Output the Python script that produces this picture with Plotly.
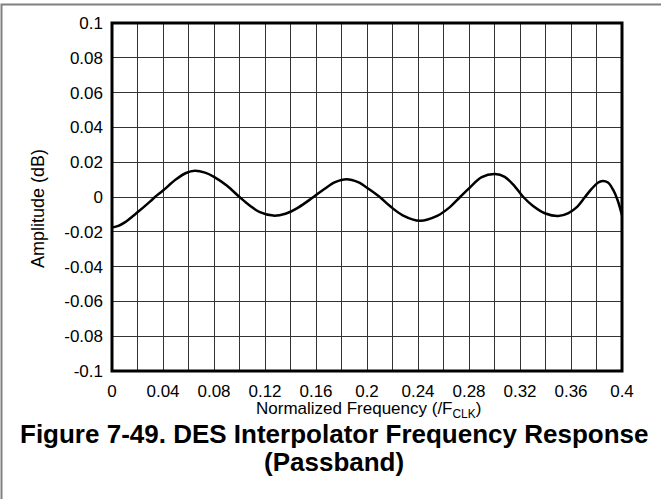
import plotly.graph_objects as go

# Data
freq = [0.000, 0.005, 0.010, 0.020, 0.030, 0.0337, 0.040, 0.050, 0.058, 0.065, 0.073,
        0.080, 0.090, 0.100, 0.108, 0.116, 0.1265, 0.136, 0.146, 0.158, 0.166,
        0.175, 0.184, 0.193, 0.202, 0.210, 0.218, 0.228, 0.2416, 0.255, 0.265,
        0.273, 0.280, 0.290, 0.3004, 0.308, 0.316, 0.3226, 0.330, 0.340, 0.350,
        0.358, 0.365, 0.371, 0.376, 0.381, 0.3849, 0.389, 0.393, 0.3965, 0.400]
amplitude = [-0.0175, -0.0166, -0.0146, -0.0088, -0.0025, 0.0, 0.0037, 0.0100, 0.0138, 0.0151, 0.0140,
             0.0116, 0.0066, 0.0, -0.0049, -0.0087, -0.0107, -0.0096, -0.0061, 0.0, 0.0043,
             0.0085, 0.0102, 0.0085, 0.0043, 0.0, -0.0052, -0.0105, -0.0136, -0.0108, -0.0058,
             0.0, 0.0050, 0.0114, 0.0132, 0.0116, 0.0060, 0.0, -0.0050, -0.0095, -0.0109,
             -0.0092, -0.0055, 0.0, 0.0045, 0.0082, 0.0092, 0.0083, 0.0042, -0.0017, -0.0105]

x_tickvals = [0, 0.04, 0.08, 0.12, 0.16, 0.2, 0.24, 0.28, 0.32, 0.36, 0.4]
x_ticktext = ["0", "0.04", "0.08", "0.12", "0.16", "0.2", "0.24", "0.28", "0.32", "0.36", "0.4"]
y_tickvals = [0.1, 0.08, 0.06, 0.04, 0.02, 0, -0.02, -0.04, -0.06, -0.08, -0.1]
y_ticktext = ["0.1", "0.08", "0.06", "0.04", "0.02", "0", "-0.02", "-0.04", "-0.06", "-0.08", "-0.1"]

W, H = 661, 499
L, R, T, B = 112, 39, 23, 128
pw, ph = W - L - R, H - T - B

def px(xpix):
    return (xpix - L) / pw

def py(ypix):
    return (H - B - ypix) / ph

font = "Liberation Sans, Arial, sans-serif"

fig = go.Figure()
fig.add_trace(go.Scatter(x=freq, y=amplitude, mode="lines",
                         line=dict(color="black", width=2.5, shape="spline", smoothing=1.0),
                         hoverinfo="skip", showlegend=False))

fig.update_layout(
    width=W, height=H,
    margin=dict(l=L, r=R, t=T, b=B),
    paper_bgcolor="white", plot_bgcolor="white",
    font=dict(family=font, size=17, color="black"),
    showlegend=False,
    xaxis=dict(range=[0, 0.4], tickvals=x_tickvals, ticktext=x_ticktext,
               showgrid=True, gridcolor="#333333", gridwidth=1,
               minor=dict(dtick=0.02, tick0=0, showgrid=True, gridcolor="#333333", gridwidth=1),
               showline=False, zeroline=False, ticks="", ticklabelstandoff=8,
               tickfont=dict(size=17)),
    yaxis=dict(range=[-0.1, 0.1], tickvals=y_tickvals, ticktext=y_ticktext,
               showgrid=True, gridcolor="#333333", gridwidth=1,
               showline=False, zeroline=False, ticks="", ticklabelstandoff=8,
               tickfont=dict(size=17)),
    shapes=[
        dict(type="rect", xref="paper", yref="paper", x0=0, x1=1, y0=0, y1=1,
             line=dict(color="black", width=3), layer="above"),
        dict(type="rect", xref="paper", yref="paper",
             x0=px(1.5), x1=px(665), y0=py(504), y1=py(4.5),
             line=dict(color="#808080", width=2), layer="above"),
    ],
    annotations=[
        dict(text="Amplitude (dB)", xref="paper", yref="paper", x=px(38), y=py(209),
             textangle=-90, showarrow=False, font=dict(size=18), xanchor="center", yanchor="middle"),
        dict(text="Normalized Frequency (/F<sub>CLK</sub>)", xref="paper", yref="paper",
             x=px(368), y=py(410), showarrow=False, font=dict(size=17),
             xanchor="center", yanchor="middle"),
        dict(text="<b>Figure 7-49. DES Interpolator Frequency Response</b>", xref="paper", yref="paper",
             x=px(334), y=py(434), showarrow=False, font=dict(size=26),
             xanchor="center", yanchor="middle"),
        dict(text="<b>(Passband)</b>", xref="paper", yref="paper",
             x=px(334), y=py(462), showarrow=False, font=dict(size=26),
             xanchor="center", yanchor="middle"),
    ],
)

fig.write_html("out.html", config={"displayModeBar": False},
               post_script="document.body.style.margin='0';document.body.style.overflow='hidden';")
